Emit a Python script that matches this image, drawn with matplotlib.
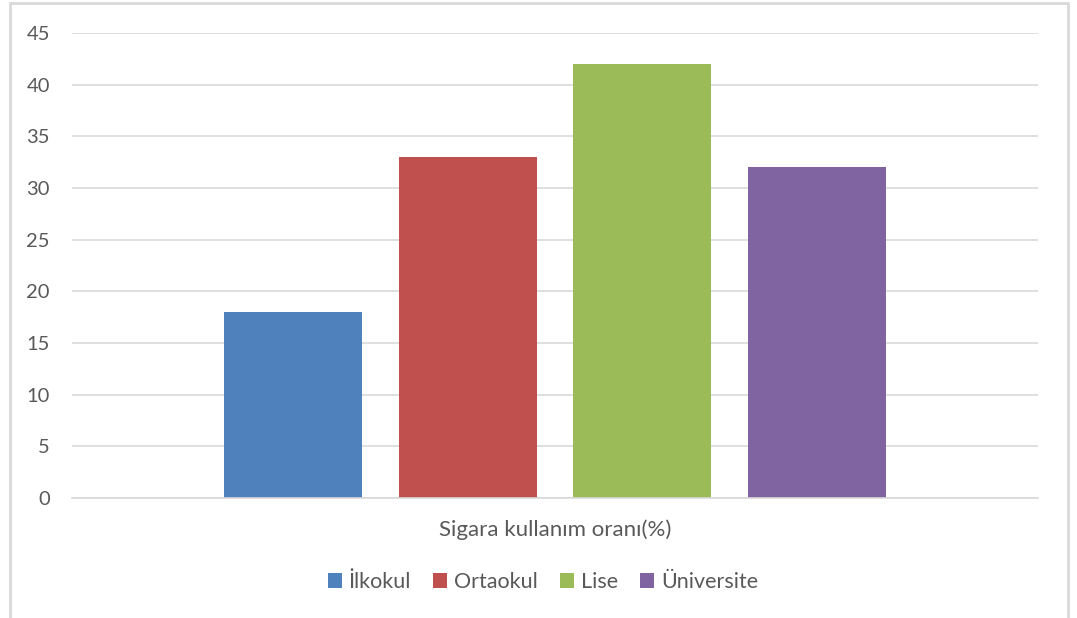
import matplotlib
matplotlib.use("Agg")
import matplotlib.pyplot as plt
from matplotlib.patches import Rectangle, Patch

categories = ["İlkokul", "Ortaokul", "Lise", "Üniversite"]
values = [18, 33, 42, 32]
colors = ["#4F81BD", "#C0504D", "#9BBB59", "#8064A2"]
xlabel = "Sigara kullanım oranı(%)"
yticks = [0, 5, 10, 15, 20, 25, 30, 35, 40, 45]

plt.rcParams['font.family'] = ['Lato', 'DejaVu Sans']
txt = "#595959"
grid = "#D9D9D9"

fig = plt.figure(figsize=(10.77, 6.18), dpi=100)
W, H = 1077, 618
ax = fig.add_axes([72 / W, 1 - 498 / H, (1038 - 72) / W, (498 - 33) / H])

spacing = 1.268
for i, (c, v, col) in enumerate(zip(categories, values, colors)):
    ax.bar((i - 1.5) * spacing, v, width=1.0, color=col, label=c, zorder=3)

ax.set_xlim(-3.5, 3.5)
ax.set_ylim(0, 45)
ax.set_yticks(yticks)
ax.set_yticklabels([str(t) for t in yticks])
ax.set_xticks([])
ax.tick_params(axis='y', length=0, pad=16, labelsize=14.5, labelcolor=txt)
ax.yaxis.grid(True, color=grid, linewidth=1.2, zorder=0)
for s in ['top', 'right', 'left']:
    ax.spines[s].set_visible(False)
ax.spines['bottom'].set_color(grid)
ax.spines['bottom'].set_linewidth(1.2)
ax.spines['bottom'].set_zorder(4)

fig.text(555 / W, 1 - 530 / H, xlabel, ha='center', va='center', fontsize=16, color=txt)

handles = [Patch(facecolor=col, edgecolor='none') for col in colors]
leg = fig.legend(handles, categories, loc='center', bbox_to_anchor=(543 / W, 1 - 582 / H),
                 ncol=4, frameon=False, fontsize=15.5, handlelength=0.65, handleheight=0.65,
                 handletextpad=0.3, columnspacing=1.05, labelcolor=txt)

fig.patches.append(Rectangle((9.5 / W, -0.05), (1067.5 - 9.5) / W, 1.05 - 3.5 / H,
                             transform=fig.transFigure, fill=False, edgecolor=grid, linewidth=2))

fig.savefig("out.png", dpi=100, facecolor='white')
